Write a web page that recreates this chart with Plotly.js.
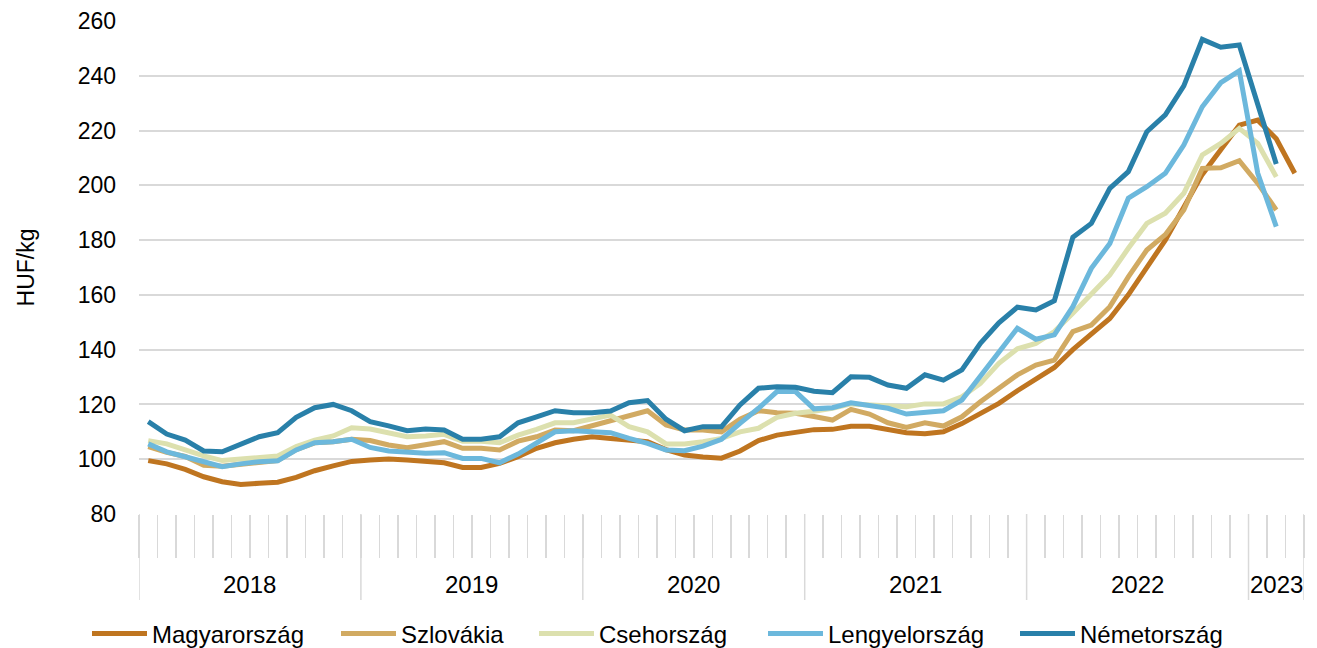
<!DOCTYPE html>
<html>
<head>
<meta charset="utf-8">
<script src="https://cdn.plot.ly/plotly-3.0.1.min.js"></script>
<style>html,body{margin:0;padding:0;background:#fff;}#chart{width:1317px;height:648px;}</style>
</head>
<body>
<div id="chart"></div>
<script>
// Monthly labels Jan 2018 – Mar 2023
const months = [];
for (let y = 2018; y <= 2023; y++) {
  for (let m = 1; m <= 12; m++) {
    if (y === 2023 && m > 3) break;
    months.push(y + '-' + String(m).padStart(2, '0'));
  }
}
const years = ['2018', '2019', '2020', '2021', '2022', '2023'];

const magyarorszag = [99.5, 98.3, 96.3, 93.6, 91.8, 90.8, 91.2, 91.6, 93.4, 95.8, 97.6, 99.2,
  99.7, 100.1, 99.7, 99.1, 98.7, 97.0, 97.0, 98.5, 100.9, 104.0, 106.0, 107.3,
  108.2, 107.6, 107.0, 106.4, 103.5, 101.5, 100.8, 100.4, 103.0, 106.8, 108.8, 110.0,
  110.8, 110.9, 112.0, 112.0, 110.9, 109.7, 109.3, 110.0, 113.0, 116.5, 120.4, 125.0,
  129.5, 133.5, 140.0, 145.5, 151.4, 160.0, 170.0, 180.0, 192.0, 204.0, 213.0, 222.0,
  223.8, 217.0, 204.4];
const szlovakia = [104.6, 102.5, 101.0, 97.8, 97.4, 98.0, 99.0, 99.5, 103.5, 106.0, 106.4, 107.3,
  106.8, 105.2, 104.2, 105.2, 106.4, 104.0, 104.0, 103.4, 106.6, 108.2, 110.7, 110.4,
  112.2, 113.7, 115.5, 117.7, 112.5, 110.7, 110.7, 110.0, 114.6, 117.7, 117.0, 116.8,
  115.6, 114.3, 118.2, 116.5, 113.3, 111.6, 113.3, 112.1, 115.5, 121.0, 125.9, 130.8,
  134.4, 136.2, 146.6, 149.0, 155.7, 166.6, 176.4, 182.0, 191.0, 206.2, 206.4, 209.0,
  200.7, 191.0];
const csehorszag = [106.8, 105.6, 103.4, 101.2, 99.5, 100.0, 100.6, 101.2, 104.6, 107.0, 108.5, 111.5,
  111.0, 109.5, 108.2, 108.5, 109.1, 106.6, 106.6, 106.0, 108.8, 110.9, 113.3, 113.3,
  114.9, 116.1, 111.9, 110.0, 105.6, 105.6, 106.4, 107.6, 110.0, 111.3, 115.3, 116.8,
  117.5, 118.6, 120.2, 119.8, 119.4, 119.2, 120.2, 120.2, 122.8, 127.7, 135.0, 140.3,
  142.3, 146.6, 153.3, 160.0, 167.3, 177.0, 186.1, 189.8, 197.1, 211.1, 215.3, 220.8,
  215.3, 203.1];
const lengyelorszag = [105.6, 102.7, 100.9, 99.1, 97.3, 98.3, 99.1, 99.4, 103.4, 106.0, 106.4, 107.3,
  104.3, 103.0, 102.4, 102.2, 102.4, 100.3, 100.3, 98.7, 101.9, 105.8, 110.0, 110.4,
  110.0, 109.7, 107.6, 105.8, 103.4, 103.1, 104.8, 107.3, 113.1, 118.6, 124.7, 124.7,
  118.4, 118.8, 120.6, 119.8, 118.6, 116.5, 117.0, 117.7, 121.6, 130.1, 139.3, 147.8,
  143.8, 145.4, 155.7, 169.7, 178.8, 195.3, 199.5, 204.4, 214.7, 228.7, 237.5, 241.8,
  204.4, 184.9];
const nemetorszag = [113.7, 109.2, 107.0, 103.0, 102.7, 105.4, 108.2, 109.7, 115.3, 118.8, 120.0, 117.7,
  113.7, 112.2, 110.4, 111.0, 110.7, 107.3, 107.3, 108.2, 113.3, 115.5, 117.7, 117.0,
  117.0, 117.6, 120.6, 121.4, 114.6, 110.4, 111.9, 111.9, 119.8, 125.9, 126.5, 126.3,
  124.8, 124.3, 130.1, 129.9, 127.1, 125.9, 130.8, 128.9, 132.6, 142.3, 149.8, 155.5,
  154.5, 157.9, 181.0, 186.1, 198.9, 205.0, 219.6, 225.7, 236.3, 253.3, 250.4, 251.2,
  229.0, 207.8];

const seriesNames = ['Magyarország', 'Szlovákia', 'Csehország', 'Lengyelország', 'Németország'];
const seriesData = [magyarorszag, szlovakia, csehorszag, lengyelorszag, nemetorszag];
const colors = ['#BF7520', '#D1AA62', '#DCE0AE', '#6CB8DC', '#2980A9'];
const legendIds = ['legend', 'legend2', 'legend3', 'legend4', 'legend5'];
const legendLeft = [92, 341, 539, 768, 1020];

const traces = seriesData.map((vals, k) => ({
  type: 'scatter', mode: 'lines',
  name: seriesNames[k],
  legend: legendIds[k],
  x: months.slice(0, vals.length),
  y: vals,
  line: {color: colors[k], width: 5},
  hoverinfo: 'skip'
}));

// year boundaries and centres (in category index units)
const shapes = [];
const annotations = [];
let start = 0;
years.forEach(yr => {
  const n = months.filter(m => m.startsWith(yr)).length;
  const lo = start - 0.5, hi = start + n - 0.5;
  shapes.push({type: 'line', xref: 'x', yref: 'paper', x0: lo, x1: lo, y0: 0, y1: -0.1745,
    line: {color: '#d9d9d9', width: 1.5}, layer: 'below'});
  annotations.push({xref: 'x', yref: 'paper', x: (lo + hi) / 2, y: -0.144, text: yr,
    showarrow: false, xanchor: 'center', yanchor: 'middle',
    font: {family: 'Liberation Sans, Arial, sans-serif', size: 24, color: '#000'}});
  start += n;
});
shapes.push({type: 'line', xref: 'x', yref: 'paper', x0: start - 0.5, x1: start - 0.5, y0: 0, y1: -0.1745,
  line: {color: '#d9d9d9', width: 1.5}, layer: 'below'});

const layout = {
  width: 1317, height: 648,
  margin: {l: 139, r: 12.5, t: 21, b: 134},
  paper_bgcolor: '#fff', plot_bgcolor: '#fff',
  font: {family: 'Liberation Sans, Arial, sans-serif', size: 23, color: '#000'},
  showlegend: true,
  xaxis: {
    type: 'category', categoryorder: 'array', categoryarray: months,
    range: [-0.5, months.length - 0.5],
    showgrid: false, zeroline: false,
    showline: false,
    ticks: 'outside', tickson: 'boundaries', ticklen: 43, tickwidth: 1.5, tickcolor: '#d9d9d9',
    showticklabels: false, fixedrange: true
  },
  yaxis: {
    range: [80, 260], tickvals: [80, 100, 120, 140, 160, 180, 200, 220, 240, 260],
    showgrid: true, gridcolor: '#d9d9d9', gridwidth: 2,
    zeroline: false, showline: false, ticks: '', ticklabelstandoff: 22,
    tickfont: {size: 23},
    title: {text: 'HUF/kg', font: {size: 23}, standoff: 36},
    fixedrange: true
  },
  shapes: shapes,
  annotations: annotations
};
legendIds.forEach((id, k) => {
  layout[id] = {orientation: 'h', xref: 'container', x: (legendLeft[k] - 5) / 1317, xanchor: 'left',
    yref: 'container', y: 14 / 648, yanchor: 'middle', bgcolor: 'rgba(0,0,0,0)',
    font: {size: 24, color: '#000'}, itemwidth: 55};
});

Plotly.newPlot('chart', traces, layout, {displayModeBar: false, staticPlot: true});
</script>
</body>
</html>
